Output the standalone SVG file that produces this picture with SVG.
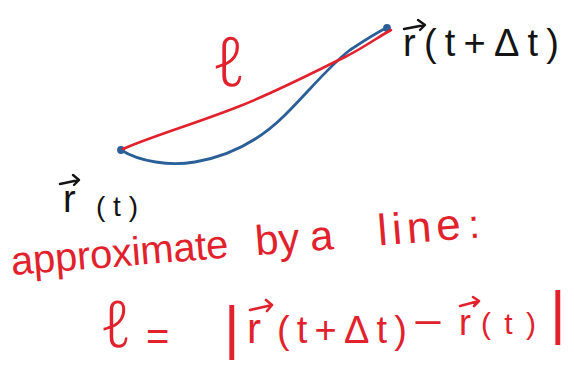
<svg xmlns="http://www.w3.org/2000/svg" width="574" height="366" viewBox="0 0 574 366">
<style>
  .t{font-family:"Liberation Sans","DejaVu Sans",sans-serif}
  .ell{font-family:"Noto Sans","DejaVu Sans",sans-serif;font-weight:300}
  .red{fill:#e1222d}
  .blk{fill:#141414}
  .sr{stroke:#e1222d;fill:none;stroke-width:2.6;stroke-linecap:round;stroke-linejoin:round}
  .sb{stroke:#2b5f97;fill:none;stroke-width:2.8;stroke-linecap:round;stroke-linejoin:round}
  .sk{stroke:#141414;fill:none;stroke-width:2.4;stroke-linecap:round;stroke-linejoin:round}
</style>
<rect width="574" height="366" fill="#ffffff"/>
<g id="curves">
  <path class="sb" d="M121,150 C140,162 170,166 195,162 C230,156 260,140 285,115 C310,90 330,65 350,50 C365,40 378,32 388,27"/>
  <circle class="sb" cx="121" cy="150" r="2.5"/>
  <circle class="sb" cx="387" cy="28" r="2.5"/>
  <path class="sr" d="M123,149 C150,137 200,122 240,106 C280,90 320,69 345,57 C365,47 378,37 391,30"/>
</g>
<g id="label-ell">
  <text class="ell red" x="212" y="86" font-size="68">ℓ</text>
</g>
<g id="label-r-t-dt">
  <path class="sk" d="M404,29 L425,25 M418,20 L425,25 L420,30"/>
  <text class="t blk" x="403" y="56" font-size="38" textLength="156" lengthAdjust="spacing">r(t+Δt)</text>
</g>
<g id="label-r-t">
  <path class="sk" d="M60,184 L79,180 M73,175 L79,180 L74,185"/>
  <text class="t blk" x="63" y="212" font-size="38">r</text>
  <text class="t blk" x="96" y="216" font-size="28" textLength="42" lengthAdjust="spacing">(t)</text>
</g>
<g id="caption" transform="translate(12,275) rotate(-4.6)">
  <text class="t red" x="0" y="0" font-size="40" textLength="218" lengthAdjust="spacing">approximate</text>
  <text class="t red" x="245" y="0" font-size="42">by</text>
  <text class="t red" x="300" y="0" font-size="42">a</text>
  <text class="t red" x="368" y="0" font-size="44" textLength="83" lengthAdjust="spacing">line</text>
  <text class="t red" x="459" y="0" font-size="40">:</text>
</g>
<g id="equation">
  <text class="ell red" x="100" y="347" font-size="64">ℓ</text>
  <text class="t red" x="146" y="350" font-size="40">=</text>
  <text class="t red" x="224" y="348" font-size="60">|</text>
  <path class="sr" d="M250,310 L272,305 M266,300 L272,305 L267,311"/>
  <text class="t red" x="247" y="343" font-size="42">r</text>
  <text class="t red" x="277" y="343" font-size="38" textLength="130" lengthAdjust="spacing">(t+Δt)</text>
  <text class="t red" x="413" y="336" font-size="40" textLength="30" lengthAdjust="spacingAndGlyphs">−</text>
  <path class="sr" d="M460,306 L479,301 M473,297 L479,301 L474,306"/>
  <text class="t red" x="459" y="335" font-size="36">r</text>
  <text class="t red" x="481" y="334" font-size="30" textLength="55" lengthAdjust="spacing">(t)</text>
  <text class="t red" x="550" y="333" font-size="60">|</text>
</g>
</svg>
